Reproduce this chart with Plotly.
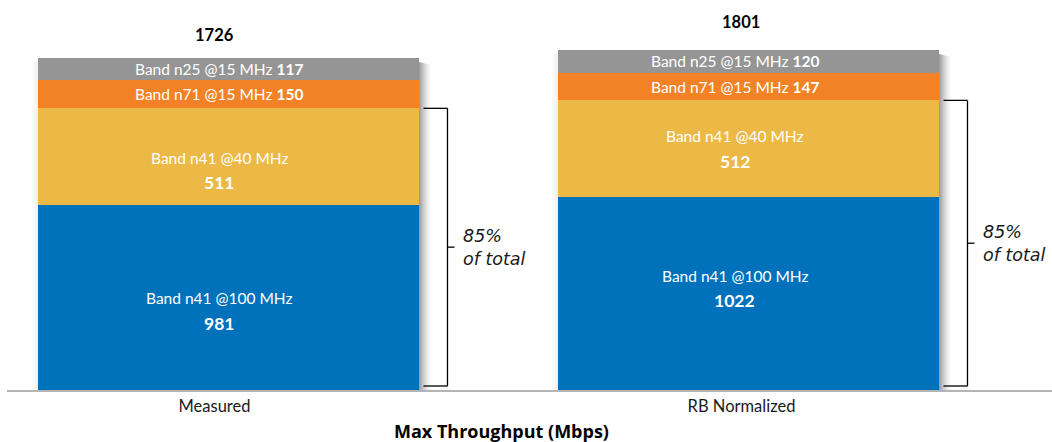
import plotly.graph_objects as go

# ---------------- data ----------------
categories = ["Measured", "RB Normalized"]
band_labels = ["Band n41 @100 MHz", "Band n41 @40 MHz", "Band n71 @15 MHz", "Band n25 @15 MHz"]
n41_100mhz = [981, 1022]
n41_40mhz = [511, 512]
n71_15mhz = [150, 147]
n25_15mhz = [117, 120]
totals = [1726, 1801]
share_text = "85%<br>of total"
x_title = "Max Throughput (Mbps)"

series = [n41_100mhz, n41_40mhz, n71_15mhz, n25_15mhz]
colors = ["#0071bb", "#ecb946", "#f38226", "#959595"]

# ---------------- geometry ----------------
W, H = 1052, 442
ML, MR, MT, MB = 7, 0, 10, 52
X0, X1 = -0.3937, 1.5892
Y1 = 2012.7
pw, ph = W - ML - MR, H - MT - MB
sx = pw / (X1 - X0)      # px per category step
sy = ph / Y1             # px per Mbps

BAR_PX = 381
bar_shift_px = [14, 7]                 # bar centre relative to its category
bar_w = BAR_PX / sx
offsets = [(s - BAR_PX / 2) / sx for s in bar_shift_px]
label_shift_px = [5, -6.5]             # in-bar text centre relative to category
# (name line, value line) vertical pixel shifts for the two tall segments, per bar
two_line_dy = {0: [(-1, -26), (18, -7)],    # n41 @100 MHz
               1: [(-1, -26), (13, -13)]}   # n41 @40 MHz
total_dy = [22.5, 28]

LABEL_FONT = "Lato, Roboto, sans-serif"
TEXT = "#1a1a1a"

fig = go.Figure()
for name, vals, col in zip(band_labels, series, colors):
    fig.add_trace(go.Bar(
        x=[0, 1], y=vals, name=name,
        width=[bar_w] * len(vals), offset=offsets,
        marker=dict(color=col, line=dict(width=0)),
        hoverinfo="skip", showlegend=False,
    ))

shapes, annotations = [], []

# soft drop shadow around each bar
for i in range(len(categories)):
    stack_top = sum(s[i] for s in series)
    left = i + offsets[i]
    right = left + bar_w
    top = stack_top - 4 / sy
    for k in range(13):
        a = 0.38 * (1 - k / 13) ** 1.6
        shapes.append(dict(type="rect", layer="below", xref="x", yref="y",
                           x0=right + k / sx, x1=right + (k + 1) / sx,
                           y0=0, y1=top - k * 0.25 / sy,
                           fillcolor=f"rgba(0,0,0,{a:.3f})", line=dict(width=0)))
    for k in range(7):
        a = 0.06 * (1 - k / 7)
        shapes.append(dict(type="rect", layer="below", xref="x", yref="y",
                           x0=left - (k + 1) / sx, x1=left - k / sx,
                           y0=0, y1=top,
                           fillcolor=f"rgba(0,0,0,{a:.3f})", line=dict(width=0)))

# segment labels
for i in range(len(categories)):
    base = 0
    xl = i + label_shift_px[i] / sx
    for j, (name, vals) in enumerate(zip(band_labels, series)):
        v = vals[i]
        mid = base + v / 2
        f = dict(family=LABEL_FONT, size=15.5, color="white")
        if j < 2:
            dy_name, dy_val = two_line_dy[j][i]
            annotations.append(dict(x=xl, y=mid, xref="x", yref="y", text=name,
                                    showarrow=False, yshift=dy_name, font=f))
            annotations.append(dict(x=xl, y=mid, xref="x", yref="y", text=f"<b>{v}</b>",
                                    showarrow=False, yshift=dy_val,
                                    font=dict(f, size=17.5)))
        else:
            annotations.append(dict(x=xl, y=mid, xref="x", yref="y",
                                    text=f"{name} <b>{v}</b>", showarrow=False, yshift=0,
                                    font=f))
        base += v
    # total above the stack
    annotations.append(dict(x=i, y=base, xref="x", yref="y", text=f"<b>{totals[i]}</b>",
                            showarrow=False, yshift=total_dy[i], yanchor="middle",
                            font=dict(family=LABEL_FONT, size=16.5, color="black")))

# brackets marking the two n41 carriers
for i in range(len(categories)):
    right = i + offsets[i] + bar_w
    xa = right + 4.5 / sx
    xb = right + 28.5 / sx
    ytop = n41_100mhz[i] + n41_40mhz[i]
    ybot = 4 / sy
    ymid = (ytop + ybot) / 2
    line = dict(color="black", width=1.3)
    shapes += [
        dict(type="line", xref="x", yref="y", x0=xa, x1=xb, y0=ytop, y1=ytop, line=line),
        dict(type="line", xref="x", yref="y", x0=xb, x1=xb, y0=ybot, y1=ytop, line=line),
        dict(type="line", xref="x", yref="y", x0=xa, x1=xb, y0=ybot, y1=ybot, line=line),
        dict(type="line", xref="x", yref="y", x0=xb, x1=xb + 7 / sx, y0=ymid, y1=ymid, line=line),
    ]
    annotations.append(dict(x=xb + 14 / sx, y=ymid, xref="x", yref="y", text=share_text,
                            showarrow=False, xanchor="left", align="left", yshift=0,
                            font=dict(family="DejaVu Sans, sans-serif", size=17.5,
                                      color=TEXT, style="italic")))

annotations.append(dict(x=(501.5 - ML) / pw, y=-(431 - (H - MB)) / ph, xref="paper", yref="paper",
                        text=f"<b>{x_title}</b>", showarrow=False, yanchor="middle",
                        font=dict(family="Open Sans, sans-serif", size=18, color="black")))

fig.update_layout(
    width=W, height=H, barmode="stack",
    margin=dict(l=ML, r=MR, t=MT, b=MB, pad=0),
    paper_bgcolor="white", plot_bgcolor="white",
    shapes=shapes, annotations=annotations, bargap=0,
    xaxis=dict(range=[X0, X1], tickmode="array", tickvals=[0, 1], ticktext=categories,
               showgrid=False, zeroline=False, showline=True, linecolor="#b4b4b4",
               linewidth=2, ticks="", tickfont=dict(family=LABEL_FONT, size=16.5, color=TEXT),
               fixedrange=True),
    yaxis=dict(range=[0, Y1], visible=False, fixedrange=True),
)

fig.write_html("out.html")
